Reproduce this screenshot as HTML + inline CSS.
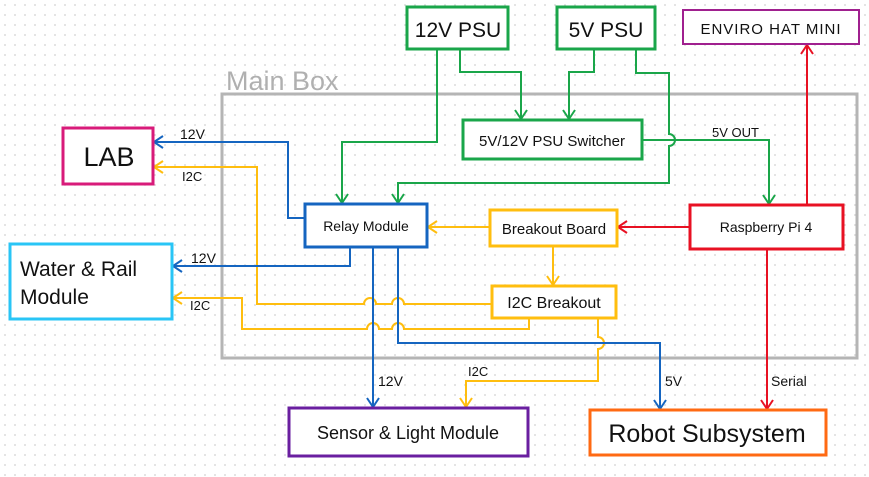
<!DOCTYPE html>
<html><head><meta charset="utf-8"><style>
html,body{margin:0;padding:0;background:#fff}
svg{display:block}
text{font-family:"Liberation Sans",sans-serif;fill:#111}
</style></head><body>
<svg width="869" height="477" viewBox="0 0 869 477" xmlns="http://www.w3.org/2000/svg">
<defs><pattern id="d" width="10" height="10" patternUnits="userSpaceOnUse"><circle cx="5" cy="5" r="0.9" fill="#d0d0d0"/></pattern></defs>
<rect width="869" height="477" fill="#fff"/>
<rect width="869" height="477" fill="url(#d)"/>

<!-- Main box -->
<rect x="222" y="94" width="635" height="264" fill="none" stroke="#b5b5b5" stroke-width="3"/>
<text x="226" y="90" font-size="27" style="fill:#b0b0b0">Main Box</text>

<g fill="none" stroke-width="2" stroke-linejoin="miter">
<!-- Green -->
<g stroke="#1aa64a">
<polyline points="437,49 437,142 342,142 342,203"/><polyline points="336,194 342,203 348,194"/>
<polyline points="460,49 460,72 521,72 521,119"/><polyline points="515,110 521,119 527,110"/>
<polyline points="594,49 594,72 569,72 569,119"/><polyline points="563,110 569,119 575,110"/>
<path d="M636,49 L636,73 L669,73 L669,134 A6,6 0 0 1 669,146 L669,183 L398,183 L398,203"/><polyline points="392,194 398,203 404,194"/>
<polyline points="642,140 769,140 769,204"/><polyline points="763,195 769,204 775,195"/>
</g>
<!-- Red -->
<g stroke="#e81123">
<polyline points="690,227 618,227"/><polyline points="627,221 618,227 627,233"/>
<polyline points="807,205 807,45"/><polyline points="801,54 807,45 813,54"/>
<polyline points="767,249 767,409"/><polyline points="761,400 767,409 773,400"/>
</g>
<!-- Yellow -->
<g stroke="#ffbe0f">
<polyline points="490,227 428,227"/><polyline points="437,221 428,227 437,233"/>
<polyline points="553,246 553,285"/><polyline points="547,276 553,285 559,276"/>
<path d="M492,304 L404,304 A6,6 0 0 0 392,304 L376,304 A6,6 0 0 0 364,304 L257,304 L257,167 L154,167"/><polyline points="163,161 154,167 163,173"/>
<path d="M529,318 L529,329 L404,329 A6,6 0 0 0 392,329 L379,329 A6,6 0 0 0 367,329 L242,329 L242,298 L173,298"/><polyline points="182,292 173,298 182,304"/>
<path d="M598,318 L598,337 A6,6 0 0 1 598,349 L598,381 L466,381 L466,407"/><polyline points="460,398 466,407 472,398"/>
</g>
<!-- Blue -->
<g stroke="#1565c0">
<polyline points="305,218 288,218 288,142 154,142"/><polyline points="163,136 154,142 163,148"/>
<polyline points="350,247 350,266 173,266"/><polyline points="182,260 173,266 182,272"/>
<polyline points="373,247 373,407"/><polyline points="367,398 373,407 379,398"/>
<polyline points="398,247 398,343 660,343 660,409"/><polyline points="654,400 660,409 666,400"/>
</g>
</g>

<!-- Boxes -->
<g fill="#fff" stroke-width="3">
<rect x="407" y="7" width="101" height="42" stroke="#1aa64a"/>
<rect x="557" y="7" width="98" height="42" stroke="#1aa64a"/>
<rect x="683" y="10" width="176" height="34" stroke="#a0208f" stroke-width="2"/>
<rect x="463" y="120" width="179" height="39" stroke="#1aa64a"/>
<rect x="63" y="128" width="90" height="56" stroke="#d81b7a"/>
<rect x="305" y="204" width="122" height="43" stroke="#1565c0"/>
<rect x="490" y="210" width="127" height="36" stroke="#ffbe0f"/>
<rect x="690" y="205" width="153" height="44" stroke="#e81123"/>
<rect x="10" y="244" width="162" height="75" stroke="#29c5f6"/>
<rect x="492" y="286" width="124" height="32" stroke="#ffbe0f"/>
<rect x="289" y="408" width="239" height="48" stroke="#6a1fa0"/>
<rect x="590" y="410" width="236" height="45" stroke="#ff6a13"/>
</g>

<!-- Box labels -->
<g text-anchor="middle">
<text x="458" y="37" font-size="21">12V PSU</text>
<text x="606" y="37" font-size="21">5V PSU</text>
<text x="771" y="34" font-size="15" letter-spacing="1">ENVIRO HAT MINI</text>
<text x="552" y="146" font-size="15">5V/12V PSU Switcher</text>
<text x="109" y="166" font-size="27">LAB</text>
<text x="366" y="231" font-size="14">Relay Module</text>
<text x="554" y="234" font-size="15">Breakout Board</text>
<text x="766" y="232" font-size="14">Raspberry Pi 4</text>
<text x="554" y="308" font-size="16">I2C Breakout</text>
<text x="408" y="439" font-size="18">Sensor &amp; Light Module</text>
<text x="707" y="442" font-size="25">Robot Subsystem</text>
</g>
<text x="20" y="276" font-size="21">Water &amp; Rail</text>
<text x="20" y="304" font-size="21">Module</text>

<!-- Connector labels -->
<g font-size="13">
<text x="712" y="137">5V OUT</text>
<text x="180" y="139" font-size="14">12V</text>
<text x="182" y="181">I2C</text>
<text x="191" y="263" font-size="14">12V</text>
<text x="190" y="310">I2C</text>
<text x="378" y="386" font-size="14">12V</text>
<text x="468" y="376">I2C</text>
<text x="665" y="386" font-size="14">5V</text>
<text x="771" y="386" font-size="14">Serial</text>
</g>
</svg>
</body></html>
